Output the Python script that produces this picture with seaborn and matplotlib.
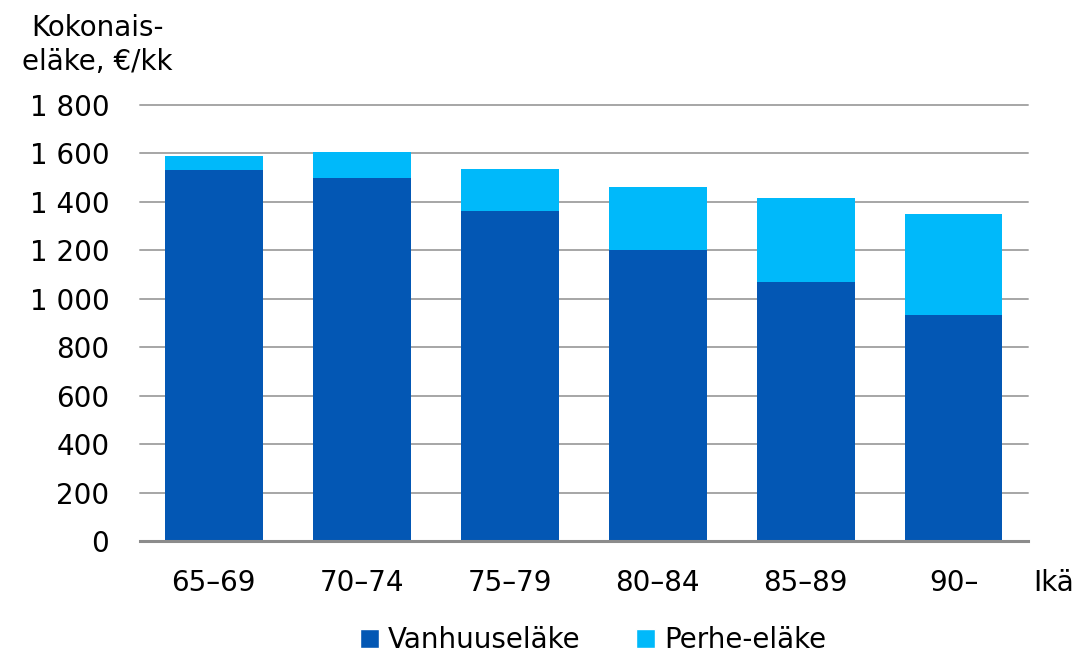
import matplotlib
matplotlib.use("Agg")
import matplotlib.pyplot as plt
import seaborn as sns
import pandas as pd
from matplotlib.patches import Patch
from matplotlib.ticker import FuncFormatter

# data
age_groups = ["65–69", "70–74", "75–79", "80–84", "85–89", "90–"]
old_age = [1530, 1500, 1362, 1202, 1071, 935]      # Vanhuuseläke
survivors = [60, 105, 173, 258, 344, 414]          # Perhe-eläke
y_ticks = [0, 200, 400, 600, 800, 1000, 1200, 1400, 1600, 1800]

dark_blue = "#0357b4"
light_blue = "#00b9fa"

df = pd.DataFrame({"age": age_groups, "old": old_age, "surv": survivors})
df["total"] = df["old"] + df["surv"]

sns.set_style("white")
plt.rcParams["font.family"] = ["DejaVu Sans"]
plt.rcParams["text.color"] = "black"

fig = plt.figure(figsize=(10.84, 6.54), dpi=100)
ax = fig.add_axes([0.129, 0.1728, 0.819, 0.6666])

# stacked bars: total drawn first, old-age pension on top of it
sns.barplot(data=df, x="age", y="total", color=light_blue, width=0.66,
            saturation=1, linewidth=0, ax=ax, zorder=3)
sns.barplot(data=df, x="age", y="old", color=dark_blue, width=0.66,
            saturation=1, linewidth=0, ax=ax, zorder=4)

ax.set_ylim(0, 1800)
ax.set_xlim(-0.5, 5.5)
ax.set_yticks(y_ticks)
ax.yaxis.set_major_formatter(FuncFormatter(lambda v, p: f"{int(v):,}".replace(",", " ")))
ax.grid(axis="y", color="#a6a6a6", linewidth=1.4, zorder=0)
ax.set_axisbelow(True)
for gl in ax.get_ygridlines():
    gl.set_clip_on(False)
ax.set_xlabel("")
ax.set_ylabel("")

for s in ["left", "right", "top"]:
    ax.spines[s].set_visible(False)
ax.spines["bottom"].set_color("#8c8c8c")
ax.spines["bottom"].set_linewidth(2.2)
ax.spines["bottom"].set_zorder(5)

ax.tick_params(axis="both", length=0, labelsize=20, colors="black")
ax.tick_params(axis="y", pad=22)
ax.tick_params(axis="x", pad=20)

fig.text(97 / 1084, 1 - 45 / 654, "Kokonais-\neläke, €/kk", ha="center",
         va="center", fontsize=20, linespacing=1.3, color="black")
fig.text(1033 / 1084, 1 - 583 / 654, "Ikä", ha="left", va="center",
         fontsize=20, color="black")

handles = [Patch(facecolor=dark_blue, label="Vanhuuseläke"),
           Patch(facecolor=light_blue, label="Perhe-eläke")]
fig.legend(handles=handles, loc="center", bbox_to_anchor=(0.547, 1 - 640 / 654),
           ncol=2, frameon=False, fontsize=20, handlelength=0.7, handleheight=0.7,
           handletextpad=0.3, columnspacing=2.0)

fig.savefig("out.png", dpi=100)
